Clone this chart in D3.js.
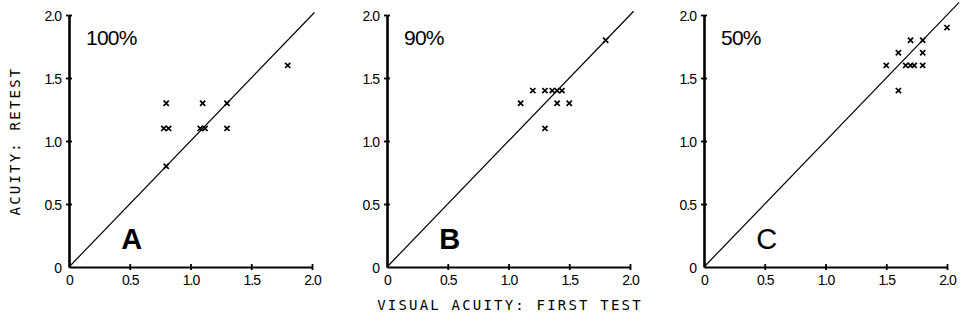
<!DOCTYPE html>
<html>
<head>
<meta charset="utf-8">
<script src="https://cdn.jsdelivr.net/npm/d3@7"></script>
<style>
  body { margin: 0; background: #fff; }
  .tick text { font-family: "Liberation Sans", Arial, sans-serif; font-size: 14px; letter-spacing: -1px; fill: #000; }
  .axis-title { font-family: "DejaVu Sans Mono", monospace; font-size: 14px; letter-spacing: 2.2px; fill: #000; }
</style>
</head>
<body>
<div id="chart"></div>
<script>
// panel names and percent labels
const panels = ["A", "B", "C"];
const percents = ["100%", "90%", "50%"];
// first test (x) and retest (y) acuity per panel
const first_a = [0.8, 1.1, 1.3, 0.78, 0.82, 1.08, 1.12, 1.3, 0.8, 1.8];
const retest_a = [1.3, 1.3, 1.3, 1.1, 1.1, 1.1, 1.1, 1.1, 0.8, 1.6];
const first_b = [1.1, 1.2, 1.3, 1.36, 1.4, 1.44, 1.4, 1.5, 1.3, 1.8];
const retest_b = [1.3, 1.4, 1.4, 1.4, 1.4, 1.4, 1.3, 1.3, 1.1, 1.8];
const first_c = [2.0, 1.7, 1.8, 1.6, 1.8, 1.5, 1.66, 1.7, 1.73, 1.8, 1.6];
const retest_c = [1.9, 1.8, 1.8, 1.7, 1.7, 1.6, 1.6, 1.6, 1.6, 1.6, 1.4];
// where the identity line stops in each panel
const line_end = [2.02, 2.03, 2.1];
const tick_values = [0, 0.5, 1.0, 1.5, 2.0];

const firsts = [first_a, first_b, first_c];
const retests = [retest_a, retest_b, retest_c];

const width = 962, height = 336;
const svg = d3.select("#chart").append("svg")
  .attr("width", width).attr("height", height);

const left_edges = [69, 387, 704];
const plot_w = 243, top_y = 15, bottom_y = 267;

const tick_fmt = d => d === 0 ? "0" : d3.format(".1f")(d);

panels.forEach((name, i) => {
  const x = d3.scaleLinear().domain([0, 2]).range([left_edges[i], left_edges[i] + plot_w]);
  const y = d3.scaleLinear().domain([0, 2]).range([bottom_y, top_y]);
  const g = svg.append("g");

  // x axis
  const xa = g.append("g")
    .attr("transform", `translate(0,${bottom_y})`)
    .call(d3.axisBottom(x).tickValues(tick_values).tickFormat(tick_fmt).tickSizeInner(3).tickSizeOuter(0).tickPadding(5));
  xa.select(".domain").attr("stroke", "#000").attr("stroke-width", 2);
  xa.selectAll(".tick line").attr("y1", -3).attr("stroke-width", 1.8).attr("stroke", "#000");
  xa.selectAll(".tick").filter(d => d === 0).select("line").remove();

  // y axis
  const ya = g.append("g")
    .attr("transform", `translate(${left_edges[i]},0)`)
    .call(d3.axisLeft(y).tickValues(tick_values).tickFormat(tick_fmt).tickSizeInner(3).tickSizeOuter(0).tickPadding(5));
  ya.select(".domain").attr("stroke", "#000").attr("stroke-width", 2.6);
  ya.selectAll(".tick line").attr("x1", 3).attr("stroke-width", 1.8).attr("stroke", "#000");
  ya.selectAll(".tick").filter(d => d === 0).select("line").remove();
  ya.selectAll(".tick text").attr("dy", "0.36em");

  // identity line
  g.append("line")
    .attr("x1", x(0)).attr("y1", y(0))
    .attr("x2", x(line_end[i])).attr("y2", y(line_end[i]))
    .attr("stroke", "#000").attr("stroke-width", 1.2);

  // crosses
  const pts = firsts[i].map((v, k) => [v, retests[i][k]]);
  const s = 2.6;
  g.selectAll("path.pt").data(pts).enter().append("path")
    .attr("class", "pt")
    .attr("d", d => {
      const cx = x(d[0]), cy = y(d[1]);
      return `M${cx - s},${cy - s}L${cx + s},${cy + s}M${cx - s},${cy + s}L${cx + s},${cy - s}`;
    })
    .attr("stroke", "#000").attr("stroke-width", 1.7).attr("fill", "none");

  // percent label
  g.append("text")
    .attr("x", x(0.14)).attr("y", y(1.76))
    .attr("font-family", "Liberation Sans, Arial, sans-serif")
    .attr("font-size", 21).attr("letter-spacing", -0.8).attr("fill", "#000")
    .text(percents[i]);

  // panel letter
  g.append("text")
    .attr("x", x(0.43)).attr("y", y(0.14))
    .attr("font-family", "Liberation Sans, Arial, sans-serif")
    .attr("font-size", 29).attr("font-weight", name === "C" ? "normal" : "bold")
    .attr("fill", "#000")
    .text(name);
});

svg.append("text")
  .attr("class", "axis-title")
  .attr("x", 510).attr("y", 310)
  .attr("text-anchor", "middle")
  .text("VISUAL ACUITY: FIRST TEST");

svg.append("text")
  .attr("class", "axis-title")
  .attr("transform", "translate(20,141) rotate(-90)")
  .attr("text-anchor", "middle")
  .text("ACUITY: RETEST");
</script>
</body>
</html>
